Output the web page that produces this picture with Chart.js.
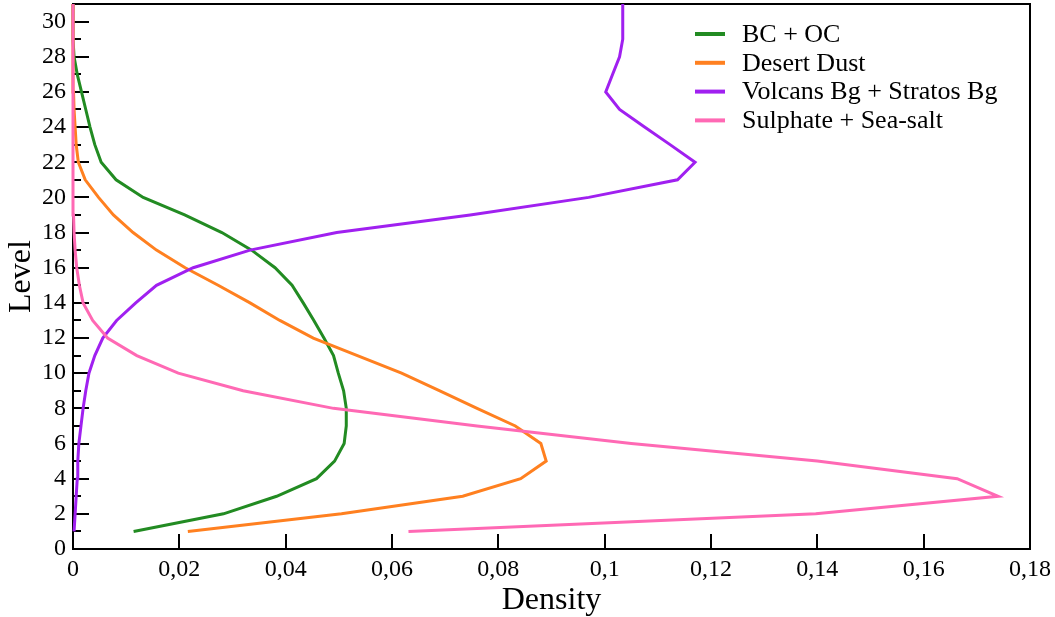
<!DOCTYPE html>
<html>
<head>
<meta charset="utf-8">
<script src="https://cdn.jsdelivr.net/npm/chart.js@4/dist/chart.umd.min.js"></script>
<style>
  body { margin: 0; background: #fff; }
  #wrap { width: 1055px; height: 617px; }
</style>
</head>
<body>
<div id="wrap"><canvas id="chart" width="1055" height="617"></canvas></div>
<script>
const levels = [1, 2, 3, 4, 5, 6, 7, 8, 9, 10, 11, 12, 13, 14, 15, 16, 17, 18, 19, 20, 21, 22, 23, 24, 25, 26, 27, 28, 29, 30, 31];

const bcOc = [0.0114, 0.0283, 0.0383, 0.0458, 0.0492, 0.0510, 0.0514, 0.0514, 0.0509, 0.0499, 0.0490, 0.0472, 0.0453, 0.0433, 0.0412, 0.0380, 0.0336, 0.0280, 0.0210, 0.0132, 0.0081, 0.0053, 0.0041, 0.0032, 0.0024, 0.0016, 0.0008, 0.0002, 0, 0, 0];
const desertDust = [0.0216, 0.0505, 0.0733, 0.0842, 0.0890, 0.0880, 0.0832, 0.0760, 0.0690, 0.0618, 0.0535, 0.0452, 0.0389, 0.0333, 0.0273, 0.0211, 0.0157, 0.0113, 0.0076, 0.0048, 0.0023, 0.0010, 0.0006, 0.0004, 0.0002, 0.0001, 0, 0, 0, 0, 0];
const volcStratos = [0.0002, 0.0004, 0.0006, 0.0008, 0.0009, 0.0011, 0.0015, 0.0019, 0.0024, 0.0030, 0.0041, 0.0056, 0.0082, 0.0118, 0.0157, 0.0226, 0.0333, 0.0496, 0.0747, 0.0970, 0.1137, 0.1170, 0.1123, 0.1075, 0.1028, 0.1002, 0.1015, 0.1028, 0.1034, 0.1034, 0.1034];
const sulphSeaSalt = [0.0631, 0.1397, 0.1740, 0.1663, 0.1400, 0.1050, 0.0760, 0.0490, 0.0320, 0.0198, 0.0120, 0.0065, 0.0037, 0.0019, 0.0012, 0.0007, 0.0004, 0.0002, 0.0001, 0, 0, 0, 0, 0, 0, 0, 0, 0, 0, 0, 0];

const seriesNames = ['BC + OC', 'Desert Dust', 'Volcans Bg + Stratos Bg', 'Sulphate + Sea-salt'];
const seriesColors = ['#228B22', '#FF8020', '#A020F0', '#FF69B4'];
const seriesValues = [bcOc, desertDust, volcStratos, sulphSeaSalt];

const FONT = 'Liberation Serif, Times New Roman, serif';

function toPoints(values) {
  return values.map((v, i) => ({ x: v, y: levels[i] }));
}

// inside tick marks + frame, drawn under the lines
const frameTicks = {
  id: 'frameTicks',
  beforeDatasetsDraw(chart) {
    const { ctx, chartArea: a, scales } = chart;
    ctx.save();
    ctx.strokeStyle = '#000';
    ctx.lineWidth = 2;
    ctx.strokeRect(a.left, a.top, a.right - a.left, a.bottom - a.top);
    ctx.beginPath();
    scales.y.ticks.forEach(t => {
      const y = Math.round(scales.y.getPixelForValue(t.value));
      const len = t.value % 2 === 0 ? 16 : 8;
      ctx.moveTo(a.left, y);
      ctx.lineTo(a.left + len, y);
    });
    scales.x.ticks.forEach(t => {
      const x = Math.round(scales.x.getPixelForValue(t.value));
      ctx.moveTo(x, a.bottom);
      ctx.lineTo(x, a.bottom - 15);
    });
    ctx.stroke();
    ctx.restore();
  }
};

// legend inside the plot, top right
const insideLegend = {
  id: 'insideLegend',
  afterDraw(chart) {
    const { ctx, chartArea: a } = chart;
    ctx.save();
    ctx.font = '26px ' + FONT;
    ctx.textBaseline = 'middle';
    ctx.fillStyle = '#000';
    chart.data.datasets.forEach((ds, i) => {
      const y = a.top + 30 + i * 28.8;
      ctx.strokeStyle = ds.borderColor;
      ctx.lineWidth = 4;
      ctx.beginPath();
      ctx.moveTo(a.left + 622, y);
      ctx.lineTo(a.left + 652, y);
      ctx.stroke();
      ctx.fillText(ds.label, a.left + 669, y + 1);
    });
    ctx.restore();
  }
};

new Chart(document.getElementById('chart'), {
  type: 'line',
  data: {
    datasets: seriesValues.map((vals, i) => ({
      label: seriesNames[i],
      data: toPoints(vals),
      borderColor: seriesColors[i],
      backgroundColor: seriesColors[i],
      borderWidth: 3,
      pointRadius: 0,
      tension: 0,
      clip: false,
      order: 4 - i
    }))
  },
  options: {
    responsive: false,
    animation: false,
    devicePixelRatio: 1,
    layout: { padding: { top: 4, right: 25, left: 0, bottom: 0 } },
    plugins: { legend: { display: false }, tooltip: { enabled: false } },
    scales: {
      x: {
        type: 'linear',
        min: 0,
        max: 0.18,
        grid: { display: false, drawTicks: false, tickLength: 0 },
        border: { display: false },
        ticks: {
          stepSize: 0.02,
          autoSkip: false,
          maxRotation: 0,
          padding: 6,
          color: '#000',
          font: { family: FONT, size: 24 },
          callback: v => String(Math.round(v * 100) / 100).replace('.', ',')
        },
        title: {
          display: true,
          text: 'Density',
          color: '#000',
          font: { family: FONT, size: 32 },
          padding: { top: 0, bottom: -3 }
        },
        afterFit: s => { s.height = 68; s.paddingLeft = 0; s.paddingRight = 0; }
      },
      y: {
        type: 'linear',
        min: 0,
        max: 31,
        grid: { display: false, drawTicks: false, tickLength: 0 },
        border: { display: false },
        ticks: {
          stepSize: 1,
          autoSkip: false,
          padding: 7,
          color: '#000',
          font: { family: FONT, size: 24 },
          callback: v => (v % 2 === 0 ? String(v) : '')
        },
        title: {
          display: true,
          text: 'Level',
          color: '#000',
          font: { family: FONT, size: 32 },
          padding: { top: 2, bottom: 0 }
        },
        afterFit: s => { s.width = 73; s.paddingTop = 0; s.paddingBottom = 0; }
      }
    }
  },
  plugins: [frameTicks, insideLegend]
});
</script>
</body>
</html>
